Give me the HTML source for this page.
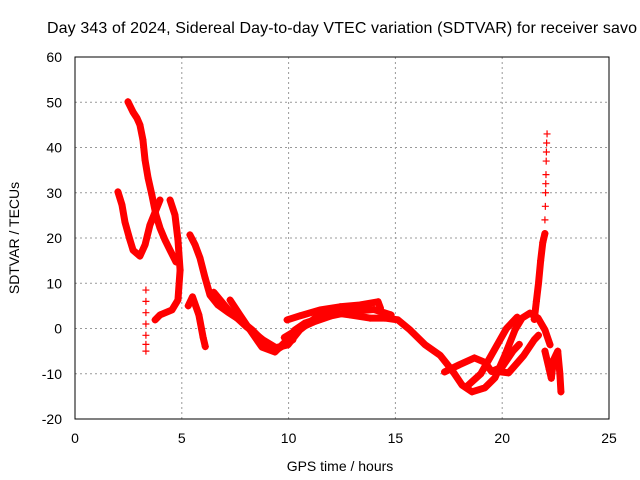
<!DOCTYPE html>
<html><head><meta charset="utf-8"><style>
body{margin:0;background:#fff;overflow:hidden}
svg{display:block;font-family:"Liberation Sans",sans-serif}
</style></head><body>
<svg id="c" width="640" height="480">
<text x="47" y="33" font-size="16" textLength="590">Day 343 of 2024, Sidereal Day-to-day VTEC variation (SDTVAR) for receiver savo</text>
<text x="340" y="471" font-size="14" text-anchor="middle">GPS time / hours</text>
<text transform="translate(19,238) rotate(-90)" font-size="14" text-anchor="middle">SDTVAR / TECUs</text>
<g id="grid"></g><g id="ticks"></g><g id="marks"></g>
<rect x="75" y="57" width="534" height="362" fill="none" stroke="#000" stroke-width="1"/>
</svg>
<script>
const xTicks=[0,5,10,15,20,25];
const yTicks=[-20,-10,0,10,20,30,40,50,60];
const traceA=[[2.48,50.1],[2.72,47.8],[2.9,46.5],[3.04,45],[3.18,41.7],[3.28,37.2],[3.42,33.3],[3.6,29.5],[3.79,25.1],[3.98,22.2],[4.21,19.6],[4.45,17.3],[4.73,14.7]];
const traceB=[[2.01,30.2],[2.2,27.3],[2.34,23.5],[2.57,19.6],[2.72,17.3],[3.04,16],[3.28,18.5],[3.51,22.9],[3.75,25.7],[3.98,28.4]];
const traceD=[[4.45,28.4],[4.68,25.1],[4.82,19.6],[4.92,12.9],[4.82,6.3],[4.54,4.1],[3.98,3],[3.75,1.9]];
const traceC=[[5.38,20.7],[5.62,18.5],[5.85,15.6],[6.09,11.2],[6.32,7.4],[6.69,5.2],[7.16,3.6],[7.72,1.9],[8.29,-0.3],[8.75,-2.5],[9.36,-4.3],[9.97,-3.6],[10.53,-0.3],[11.24,2.3],[11.94,3.6],[12.87,3],[13.81,2.3],[14.51,2.3],[15.12,1.9],[15.68,-0.3],[16.39,-3.6],[17.09,-5.9],[17.65,-9.2],[18.12,-12.5],[18.59,-14],[19.19,-13.1],[19.66,-10.9],[20.13,-5.9],[20.6,-0.3],[20.93,2.3],[21.3,3.4],[21.68,2.3],[22.0,-0.3],[22.24,-3.6]];
const traceE=[[9.93,1.9],[10.53,2.8],[11.47,4.1],[12.41,4.8],[13.34,5.2],[14.19,5.9],[14.3,4.5]];
const traceF=[[7.26,6.3],[7.72,3],[8.19,-0.3],[8.75,-4.1],[9.36,-5.2],[9.83,-3],[10.3,-0.3],[10.77,1.2],[11.47,2.3]];
const traceK=[[9.8,-2],[10.5,0],[11.2,1.5],[12,2.8],[13,3.8],[14,4.2],[14.8,3]];
const traceL=[[6.5,8],[7.2,4],[8,0.5],[8.8,-2.5],[9.5,-4.5],[10.2,-2.5]];
const traceG=[[17.3,-9.6],[18.0,-8.0],[18.7,-6.5],[19.2,-7.5],[19.5,-9.5],[20.0,-8.5],[20.5,-5],[20.8,-3.5]];
const traceH=[[18.3,-13],[19.0,-10],[19.6,-5],[20.2,0],[20.7,2.5]];
const traceI=[[19.8,-9.5],[20.3,-9.8],[21.0,-6],[21.5,-2.5],[21.7,-1.5]];
const traceJ=[[5.3,5],[5.5,7],[5.8,3],[6.0,-2],[6.1,-4]];
const spike=[[21.5,2],[21.6,6],[21.7,10],[21.8,15],[21.9,19],[22.0,21]];
const spikeTop=[[22.0,24],[22.02,27],[22.03,30],[22.04,32],[22.05,34],[22.06,37],[22.07,39],[22.08,41],[22.1,43]];
const tail=[[22.0,-5],[22.2,-9],[22.3,-11],[22.4,-7],[22.6,-5],[22.7,-10],[22.75,-14]];
const scatterV=[[3.32,8.5],[3.32,6],[3.32,3.5],[3.32,1],[3.32,-1.5],[3.32,-3.5],[3.32,-5]];
const X=h=>75+h*534/25, Y=v=>57+(60-v)*362/80;
const NS="http://www.w3.org/2000/svg";
function mk(t,a,p){const e=document.createElementNS(NS,t);for(const k in a)e.setAttribute(k,a[k]);p.appendChild(e);return e;}
const grid=document.getElementById('grid'),ticks=document.getElementById('ticks'),marks=document.getElementById('marks');
xTicks.forEach(t=>{
 if(t>0&&t<25){const g=mk('line',{x1:X(t),x2:X(t),y1:57,y2:419,stroke:'#999','stroke-dasharray':'2,3'},grid);
 
 }
 const l=mk('text',{x:X(t),y:443,'font-size':14,'text-anchor':'middle'},ticks);l.textContent=t;
 
 
});
yTicks.forEach(t=>{
 if(t>-20&&t<60){const g=mk('line',{x1:75,x2:609,y1:Y(t),y2:Y(t),stroke:'#999','stroke-dasharray':'2,3'},grid);
 
 }
 const l=mk('text',{x:62,y:Y(t)+5,'font-size':14,'text-anchor':'end'},ticks);l.textContent=t;
 
 
});
function plus(p,h,v){mk('path',{d:`M${X(h)-3.5},${Y(v)}h7M${X(h)},${Y(v)-3.5}v7`,stroke:'#f00','stroke-width':1.2,fill:'none'},p);}
function trace(arr,name,line){
 const g=mk('g',{},marks);
 
 
 if(line)mk('polyline',{points:arr.map(p=>X(p[0])+','+Y(p[1])).join(' '),fill:'none',stroke:'#f00','stroke-width':7,'stroke-linejoin':'round','stroke-linecap':'round'},g);
 arr.forEach(p=>plus(g,p[0],p[1]));
}
trace(traceA,'trace-a',true);trace(traceB,'trace-b',true);trace(traceD,'trace-d',true);
trace(traceC,'trace-c',true);trace(traceE,'trace-e',true);trace(traceF,'trace-f',true);
trace(traceK,'trace-k',true);trace(traceL,'trace-l',true);
trace(traceG,'trace-g',true);trace(traceH,'trace-h',true);trace(traceI,'trace-i',true);
trace(traceJ,'trace-j',true);trace(spike,'spike',true);trace(spikeTop,'spike-top',false);
trace(tail,'tail',true);trace(scatterV,'scatter-early',false);
</script>
</body></html>
